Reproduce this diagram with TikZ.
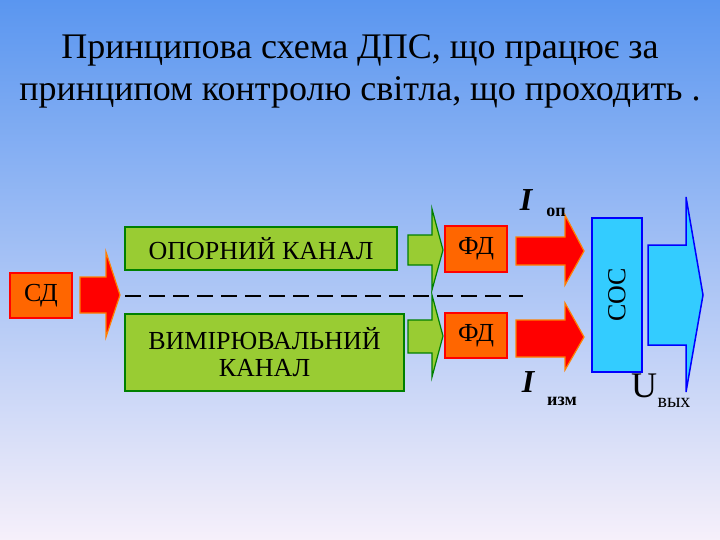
\documentclass[tikz,border=0pt]{standalone}
\usepackage{fontspec}
\setmainfont{Liberation Serif}
\definecolor{gfill}{RGB}{153,204,51}
\definecolor{ofill}{RGB}{255,102,0}
\definecolor{cfill}{RGB}{51,204,255}
\begin{document}
\begin{tikzpicture}[x=1pt,y=-1pt,
  obox/.style={draw=red,line width=1.5pt,fill=ofill,inner sep=0pt},
  gbox/.style={draw=green!50!black,line width=1.5pt,fill=gfill,inner sep=0pt},
  rarrow/.style={fill=red,draw=orange,line width=1.2pt},
  garrow/.style={fill=gfill,draw=green!50!black,line width=1.2pt},
  barrow/.style={fill=cfill,draw=blue,line width=1.5pt},
  lbl/.style={font=\fontsize{26}{27}\selectfont}]
\shade[top color={rgb,255:red,90;green,150;blue,240},bottom color={rgb,255:red,246;green,240;blue,250}] (0,0) rectangle (720,540);
\useasboundingbox (0,0) rectangle (720,540);
\node[font=\fontsize{36}{42}\selectfont,align=center] (title) at (360,71) {Принципова схема ДПС, що працює за\\принципом контролю світла, що проходить .};
% boxes
\node[obox,minimum width=62pt,minimum height=45pt,lbl] (sd) at (41,295.5) {СД};
\node[gbox,minimum width=272pt,minimum height=43pt,lbl] (op) at (261,248.5) {ОПОРНИЙ КАНАЛ};
\node[gbox,minimum width=279pt,minimum height=77pt,lbl,align=center] (vym) at (264.5,352.5) {ВИМІРЮВАЛЬНИЙ\\КАНАЛ};
\node[obox,minimum width=62pt,minimum height=46pt,lbl] (fd1) at (476,249) {ФД};
\node[obox,minimum width=62pt,minimum height=45pt,lbl] (fd2) at (476,335.5) {ФД};
\node[draw=blue,line width=2pt,fill=cfill,minimum width=50pt,minimum height=154pt,inner sep=0pt] (soc) at (617,295) {};
\node[rotate=90,lbl] at (soc.center) {СОС};
% arrows
\draw[rarrow] (80,277) -- (106,277) -- (106,252) -- (120,295) -- (106,337) -- (106,313) -- (80,313) -- cycle;
\draw[garrow] (408,235) -- (432,235) -- (432,209) -- (443,250) -- (432,290) -- (432,265) -- (408,265) -- cycle;
\draw[garrow] (408,320) -- (432,320) -- (432,295) -- (443,336) -- (432,377) -- (432,353) -- (408,353) -- cycle;
\draw[rarrow] (516,237) -- (565,237) -- (565,215) -- (584,251) -- (565,285) -- (565,265) -- (516,265) -- cycle;
\draw[rarrow] (516,320) -- (565,320) -- (565,303) -- (584,337) -- (565,370) -- (565,357) -- (516,357) -- cycle;
\draw[barrow] (648,245) -- (686,245) -- (686,197) -- (703,295) -- (686,392) -- (686,345) -- (648,345) -- cycle;
\draw[line width=2.2pt,dash pattern=on 16pt off 8pt] (125,296) -- (523,296);
% labels
\node[font=\fontsize{32}{34}\selectfont\bfseries\itshape] (iop) at (526,200) {I};
\node[font=\fontsize{18}{20}\selectfont\bfseries] at (556,212) {оп};
\node[font=\fontsize{32}{34}\selectfont\bfseries\itshape] (iizm) at (528,382) {I};
\node[font=\fontsize{18}{20}\selectfont\bfseries] at (562,401) {изм};
\node[font=\fontsize{36}{38}\selectfont] (u) at (644,386) {U};
\node[font=\fontsize{20}{22}\selectfont] at (674,403) {вых};
\end{tikzpicture}
\end{document}
